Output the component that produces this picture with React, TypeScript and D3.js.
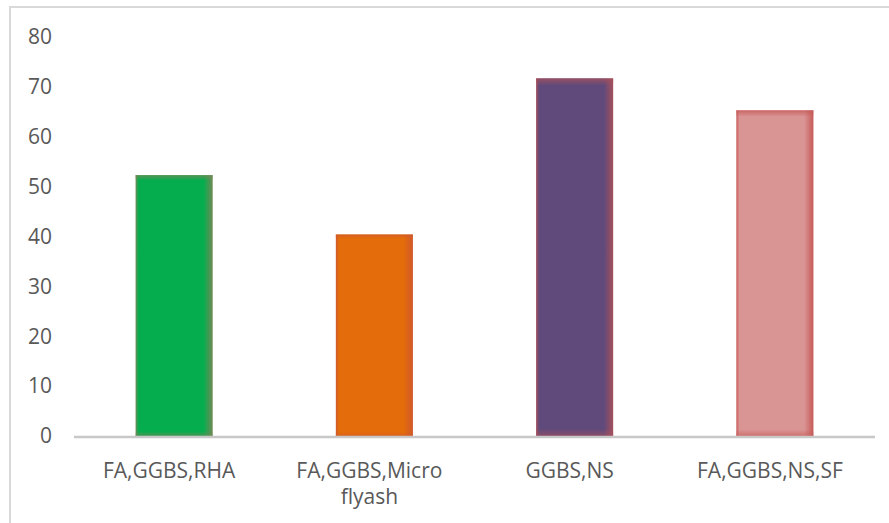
import React from "react";
import * as d3 from "d3";

const categories = ["FA,GGBS,RHA", "FA,GGBS,Micro flyash", "GGBS,NS", "FA,GGBS,NS,SF"];
const categoryLines = [["FA,GGBS,RHA"], ["FA,GGBS,Micro", "flyash"], ["GGBS,NS"], ["FA,GGBS,NS,SF"]];
const values = [52.3, 40.4, 71.7, 65.3];
const yTicks = [0, 10, 20, 30, 40, 50, 60, 70, 80];
const mainColors = ["#05ad4f", "#e46c0a", "#604a7b", "#d99594"];
const edgeColors = ["#6f8a55", "#d0592c", "#a6505c", "#c65a58"];

const W = 889;
const H = 523;
const plotLeft = 74;
const plotRight = 875;
const yTop = 37;
const yBase = 436;

export default function App() {
  const x = d3.scaleBand<string>().domain(categories).range([plotLeft, plotRight]).paddingInner(0.615).paddingOuter(0.3075);
  const y = d3.scaleLinear().domain([0, 80]).range([yBase, yTop]);
  const font = "'Open Sans', 'DejaVu Sans', sans-serif";
  return (
    <svg width={W} height={H} style={{ position: "absolute", left: 0, top: 0, background: "#fff" }}>
      <defs>
        {categories.map((c, i) => (
          <React.Fragment key={c}>
            <linearGradient id={`gh${i}`} x1="0" x2="1" y1="0" y2="0">
              <stop offset="0" stopColor={edgeColors[i]} />
              <stop offset="0.04" stopColor={mainColors[i]} stopOpacity={1} />
              <stop offset="0.12" stopColor={mainColors[i]} />
              <stop offset="0.88" stopColor={mainColors[i]} />
              <stop offset="1" stopColor={edgeColors[i]} />
            </linearGradient>
            <linearGradient id={`gv${i}`} x1="0" x2="0" y1="0" y2="1">
              <stop offset="0" stopColor={edgeColors[i]} stopOpacity={0.8} />
              <stop offset="0.02" stopColor={edgeColors[i]} stopOpacity={0} />
              <stop offset="0.98" stopColor={edgeColors[i]} stopOpacity={0} />
              <stop offset="1" stopColor={edgeColors[i]} stopOpacity={0.6} />
            </linearGradient>
          </React.Fragment>
        ))}
      </defs>
      <line x1={10} x2={889} y1={7} y2={7} stroke="#d9d9d9" strokeWidth={2} />
      <line x1={10} x2={10} y1={6} y2={523} stroke="#d9d9d9" strokeWidth={2} />
      {yTicks.map((t) => (
        <text key={t} x={52} y={y(t)} dy="0.35em" textAnchor="end" fontFamily={font} fontSize={21} fill="#595959">
          {t}
        </text>
      ))}
      {categories.map((c, i) => (
        <g key={c}>
          <rect x={x(c)} y={y(values[i])} width={x.bandwidth()} height={yBase - y(values[i])} fill={`url(#gh${i})`} />
          <rect x={x(c)} y={y(values[i])} width={x.bandwidth()} height={yBase - y(values[i])} fill={`url(#gv${i})`} />
        </g>
      ))}
      <line x1={plotLeft} x2={plotRight} y1={yBase + 1} y2={yBase + 1} stroke="#c8c8c8" strokeWidth={2.5} />
      {categories.map((c, i) => {
        const cx = (x(c) as number) + x.bandwidth() / 2 - 5;
        return categoryLines[i].map((p, j) => (
          <text key={`${c}-${j}`} x={cx} y={471 + j * 26} dy="0.35em" textAnchor="middle" fontFamily={font} fontSize={21} fill="#595959">
            {p}
          </text>
        ));
      })}
    </svg>
  );
}
